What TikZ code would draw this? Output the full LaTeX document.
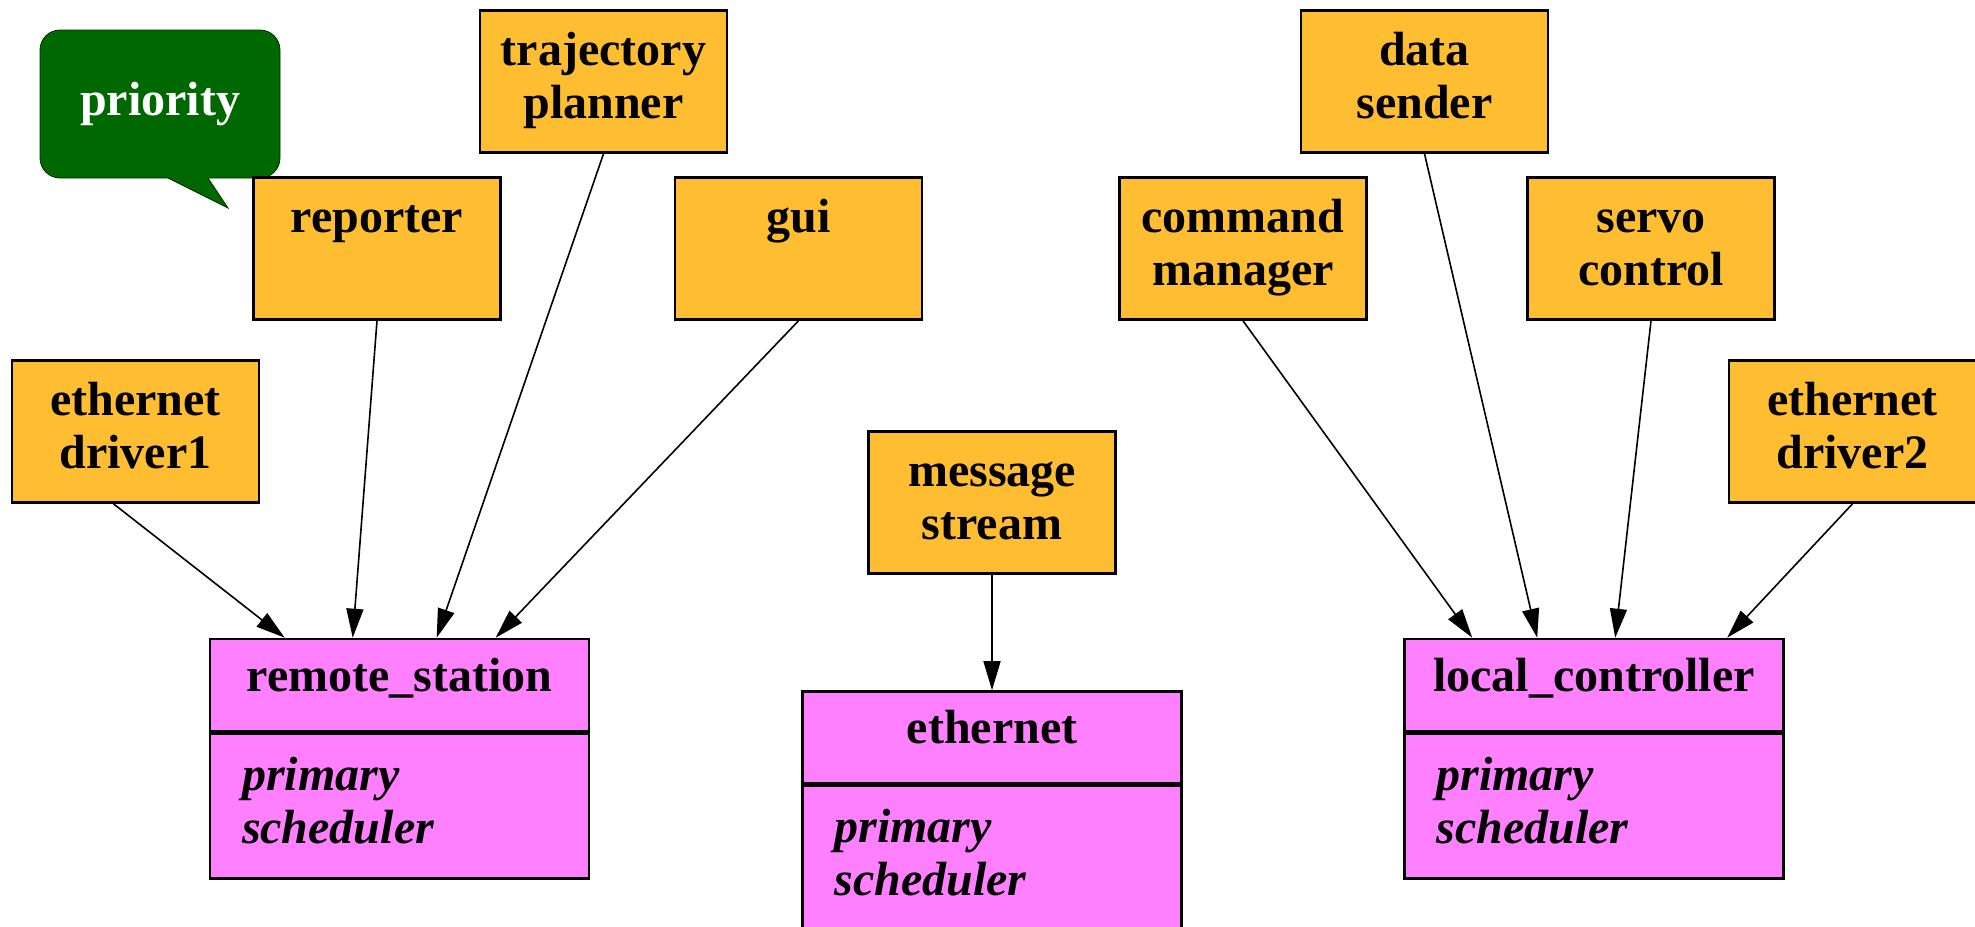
\documentclass[tikz,border=0pt]{standalone}
\usepackage{fontspec}
\setmainfont{Liberation Serif}
\usetikzlibrary{arrows.meta,calc}
\definecolor{taskcol}{RGB}{255,190,50}
\definecolor{proccol}{RGB}{255,128,255}
\definecolor{bubblecol}{RGB}{0,104,0}

\begin{document}
\begin{tikzpicture}[x=0.5pt,y=-0.5pt,
    every node/.style={font=\fontsize{24}{26.5}\selectfont\bfseries},
    task/.style={draw, line width=1.3pt, fill=taskcol, minimum width=123.5pt, minimum height=71pt, inner sep=0pt, align=center},
    proc/.style={draw, line width=1.3pt, fill=proccol, minimum width=189.5pt, minimum height=46pt, inner sep=0pt, text height=17pt, text depth=11pt},
    procbody/.style={draw, line width=1.3pt, fill=proccol, anchor=north, minimum height=72.5pt, text width=157.5pt, inner xsep=16pt, inner ysep=0pt, align=left, font=\fontsize{24}{26.5}\selectfont\bfseries\itshape},
    bubble/.style={draw=black!60!bubblecol, fill=bubblecol, text=white, thin, rounded corners=10pt, minimum width=120pt, minimum height=74pt, inner sep=0pt},
    edge/.style={-{Triangle[length=14.5pt,width=8.5pt]}, line width=0.8pt}]
    \useasboundingbox (0,0) rectangle (1975,926);

% the priority bubble
\node[bubble] (prio) at (160,104) {priority};
\fill[bubblecol] (168,172) -- (168,178) -- (228,208) -- (208,178) -- (208,172) -- cycle;
\draw[black!60!bubblecol, thin] (168,178) -- (228,208) -- (208,178);

% tasks
\node[task] (planner) at (603.5,81.5) {\strut trajectory\\\strut planner};
\node[task] (reporter) at (377,248.5) {\strut reporter\\\strut};
\node[task] (gui) at (798.5,248.5) {\strut gui\\\strut};
\node[task] (driverA) at (135.5,431.5) {\strut ethernet\\\strut driver1};
\node[task] (stream) at (992,502.5) {\strut message\\\strut stream};
\node[task] (sender) at (1424.5,81.5) {\strut data\\\strut sender};
\node[task] (manager) at (1243,248.5) {\strut command\\\strut manager};
\node[task] (servo) at (1651,248.5) {\strut servo\\\strut control};
\node[task] (driverB) at (1852.5,431.5) {\strut ethernet\\\strut driver2};

% processors
\node[proc] (remote) at (399.5,685) {remote\_station};
\node[procbody] (remotesched) at (remote.south) {\strut primary\\\strut scheduler};
\node[proc] (ethernet) at (992,737.5) {ethernet};
\node[procbody] (ethernetsched) at (ethernet.south) {\strut primary\\\strut scheduler};
\node[proc] (local) at (1594,685) {local\_controller};
\node[procbody] (localsched) at (local.south) {\strut primary\\\strut scheduler};

% bindings
\draw[edge] ($(driverA.south)+(-22,0)$) -- ($(remote.north west)+(76,0)$);
\draw[edge] (reporter.south) -- ($(remote.north west)+(144,0)$);
\draw[edge] (planner.south) -- ($(remote.north west)+(228,0)$);
\draw[edge] (gui.south) -- ($(remote.north west)+(287,0)$);
\draw[edge] (stream) -- (ethernet);
\draw[edge] (manager.south) -- ($(local.north west)+(69,0)$);
\draw[edge] (sender.south) -- ($(local.north west)+(134,0)$);
\draw[edge] (servo.south) -- ($(local.north west)+(212,0)$);
\draw[edge] (driverB.south) -- ($(local.north west)+(324,0)$);

\end{tikzpicture}
\end{document}
